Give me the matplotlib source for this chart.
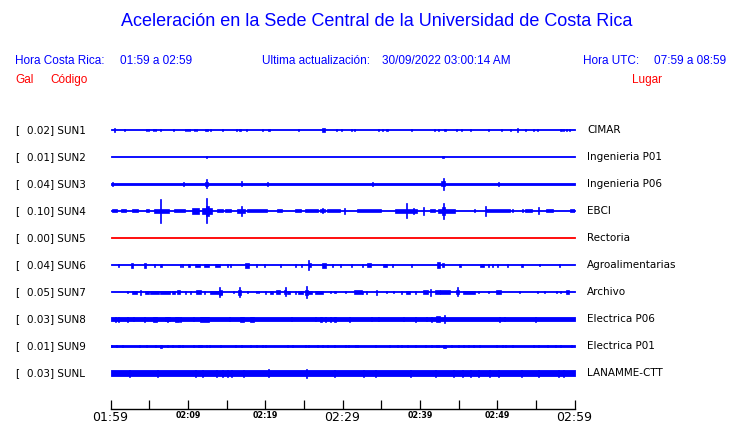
import matplotlib
matplotlib.use('Agg')
import matplotlib.pyplot as plt
import matplotlib.transforms as mtransforms

# station info, top to bottom
codes = ['SUN1', 'SUN2', 'SUN3', 'SUN4', 'SUN5', 'SUN6', 'SUN7', 'SUN8', 'SUN9', 'SUNL']
peaks = ['0.02', '0.01', '0.04', '0.10', '0.00', '0.04', '0.05', '0.03', '0.01', '0.03']
places = ['CIMAR', 'Ingenieria P01', 'Ingenieria P06', 'EBCI', 'Rectoria',
          'Agroalimentarias', 'Archivo', 'Electrica P06', 'Electrica P01', 'LANAMME-CTT']
# quiet level half width of each trace (px of the original)
base_amp = [0.5, 0.5, 1.1, 0.5, 0.5, 0.5, 0.5, 1.6, 0.5, 2.5]

# bursts per trace: (minute after 01:59, half amplitude in px, duration in minutes)
sun1 = [(0.56, 2.2, .13), (1.85, 1.3, .13), (4.69, 1.3, .13), (4.95, 1.3, .13), (5.50, 1.3, .13),
        (5.81, 1.3, .13), (6.49, 1.3, .13), (8.17, 1.3, .13), (9.72, 1.3, .13), (9.98, 1.3, .13),
        (10.23, 1.3, .13), (10.88, 1.3, .13), (11.14, 1.3, .13), (12.38, 1.2, .43), (12.95, 1.3, .13),
        (14.49, 1.3, .13), (16.34, 1.3, .13), (16.73, 1.3, .26), (17.63, 1.3, .13), (19.65, 1.3, .13),
        (20.51, 1.3, .17), (24.30, 1.0, .13), (27.57, 1.8, .34), (29.20, 1.3, .13), (29.85, 1.3, .13),
        (31.12, 1.3, .13), (31.53, 1.3, .13), (34.63, 1.3, .13), (35.14, 1.3, .13), (35.79, 1.3, .26),
        (38.88, 1.0, .13), (41.89, 1.3, .13), (42.41, 1.3, .13), (43.23, 1.3, .26), (44.69, 1.3, .13),
        (45.33, 1.3, .13), (46.49, 1.0, .13), (48.94, 1.3, .13), (50.54, 1.3, .13), (51.70, 1.3, .13),
        (52.62, 1.8, .22), (53.67, 1.0, .13), (54.75, 1.3, .13), (55.27, 1.3, .13), (58.24, 1.3, .26),
        (58.62, 1.3, .13), (59.01, 1.3, .13), (59.39, 1.3, .13)]
sun2 = [(12.38, 1.0, .13), (43.05, 1.2, .26)]
sun3 = [(12.38, 4.5, .13), (12.38, 2.2, .40), (16.94, 2.5, .13), (43.05, 6.0, .13), (43.05, 2.5, .50),
        (0.3, 1.8, .13), (9.5, 1.8, .13), (20.3, 1.8, .13), (33.9, 1.8, .13), (50.2, 1.8, .13)]
sun4 = [(0.54, 1.5, .65), (1.66, 1.5, .73), (3.18, 1.5, .77), (4.84, 1.5, .39), (6.56, 2.0, 1.94),
        (8.92, 1.5, 1.5), (11.01, 3.0, .95), (12.47, 3.0, 1.29), (14.13, 1.5, .73), (15.22, 1.5, .77),
        (16.88, 2.0, 1.08), (18.92, 1.5, 2.58), (21.83, 1.5, .65), (24.25, 1.5, .77), (26.02, 1.5, 1.72),
        (27.41, 1.5, .65), (28.81, 1.5, 1.72), (33.44, 1.5, 3.2), (38.17, 2.0, 2.8), (41.61, 1.5, .65),
        (43.44, 2.0, 2.15), (47.10, 1.5, .13), (50.15, 1.5, 3.1), (52.04, 1.5, .13), (53.24, 1.5, .13),
        (54.04, 1.5, 1.0), (56.77, 1.5, .86), (59.68, 1.5, .65),
        (6.49, 12.0, .13), (12.38, 12.5, .13), (12.50, 5.0, .40), (16.94, 5.3, .13), (27.41, 2.5, .13),
        (30.20, 3.3, .13), (38.28, 7.5, .13), (39.23, 3.0, .13), (40.43, 4.0, .13), (43.05, 8.0, .13),
        (43.10, 4.0, .40), (48.43, 5.0, .13), (55.31, 3.5, .13)]
sun5 = []
sun6 = [(1.08, 1.5, .13), (2.75, 2.5, .26), (4.43, 2.5, .26), (5.72, 1.5, .13), (6.49, 1.5, .30),
        (8.99, 1.5, .13), (9.33, 1.5, .13), (10.11, 1.5, .30), (11.29, 1.5, .65), (12.37, 1.5, .65),
        (13.87, 1.5, .65), (15.18, 1.5, .13), (15.48, 1.5, .13), (17.68, 2.5, .52), (18.84, 1.5, .13),
        (19.91, 1.5, .13), (22.02, 1.5, .13), (23.87, 1.5, .13), (24.73, 1.5, .13), (25.59, 5.3, .13),
        (25.81, 2.0, .20), (27.57, 2.5, .52), (28.73, 1.5, .13), (29.68, 1.5, .13), (31.10, 1.5, .13),
        (32.60, 1.5, .13), (33.42, 1.8, .43), (35.53, 1.5, .52), (36.43, 1.5, .13), (38.93, 1.5, .13),
        (42.41, 2.8, .30), (43.01, 1.8, .30), (45.20, 1.5, .30), (48.00, 1.5, .52), (48.90, 1.5, .13),
        (49.42, 1.5, .13), (49.98, 1.5, .13), (51.40, 1.5, .13), (53.20, 1.5, .30), (55.48, 1.0, .13),
        (58.06, 1.5, .13)]
sun7 = [(2.15, 1.0, .13), (3.12, 1.5, .65), (3.83, 2.5, .13), (4.69, 1.5, .52), (5.70, 1.5, 1.08),
        (7.10, 1.5, 1.29), (8.17, 1.5, .43), (8.82, 2.0, .43), (9.72, 1.5, .13), (10.32, 1.5, .13),
        (11.40, 2.0, .69), (12.17, 1.5, .13), (13.44, 1.5, 1.08), (14.10, 5.0, .13), (14.20, 2.5, .40),
        (14.36, 1.5, .13), (15.91, 1.0, .13), (16.69, 5.0, .13), (16.70, 2.5, .40), (17.76, 1.0, .13),
        (18.92, 1.0, .13), (19.14, 1.0, .13), (20.00, 1.5, .13), (20.86, 1.5, .43), (21.65, 2.0, .56),
        (22.58, 4.5, .13), (22.60, 2.0, .30), (23.01, 1.5, .43), (23.87, 1.5, .13), (24.62, 1.5, .65),
        (25.33, 6.0, .13), (25.40, 2.5, .40), (25.80, 1.5, .43), (26.99, 1.5, 1.08), (28.47, 1.0, .13),
        (29.03, 1.0, .13), (30.33, 1.0, .13), (31.98, 2.0, 1.0), (32.60, 1.5, .13), (33.12, 1.5, .13),
        (34.41, 2.5, .20), (35.70, 1.0, .13), (36.56, 1.0, .13), (37.64, 1.5, .13), (38.45, 1.5, .52),
        (39.48, 1.5, .13), (40.75, 2.0, .65), (41.42, 3.5, .13), (42.26, 2.0, .65), (43.23, 2.0, 1.29),
        (44.82, 4.5, .13), (44.90, 2.2, .40), (46.35, 1.5, 1.5), (47.53, 1.0, .13), (48.82, 1.0, .13),
        (50.21, 2.0, .65), (52.90, 1.0, .13), (55.27, 1.0, .13), (56.08, 1.0, .13), (57.63, 1.0, .13),
        (58.15, 1.0, .13), (59.09, 2.0, .34)]
sun8 = [(0.65, 2.5, .13), (1.08, 2.5, .13), (2.24, 2.5, .13), (3.01, 2.2, .13), (4.43, 2.5, .13),
        (5.76, 2.5, .52), (7.31, 2.5, .13), (7.42, 2.3, .65), (8.60, 2.5, .43), (9.03, 2.5, .13),
        (10.75, 2.2, .13), (12.15, 2.5, 1.08), (15.40, 2.2, .13), (16.99, 2.5, .43), (18.28, 2.5, .43),
        (23.44, 2.2, .13), (26.45, 2.2, .13), (27.22, 2.5, .13), (27.74, 2.5, .13), (28.51, 2.5, .13),
        (29.03, 2.5, .13), (30.88, 2.5, .13), (33.77, 2.2, .13), (34.63, 2.2, .13), (37.94, 2.2, .13),
        (39.48, 2.5, .13), (40.86, 2.2, .13), (41.51, 2.5, .13), (42.32, 3.0, .52), (43.14, 4.0, .13),
        (50.24, 2.5, .13), (50.97, 2.2, .13), (54.97, 2.5, .13)]
sun9 = [(0.09, 1.2, .13), (0.77, 1.2, .13), (1.51, 1.2, .13), (3.78, 1.2, .13), (4.69, 1.2, .13),
        (5.76, 1.2, .13), (6.54, 1.5, .30), (7.40, 1.2, .13), (7.96, 1.2, .13), (8.88, 1.2, .30),
        (9.37, 1.2, .13), (10.67, 1.2, .13), (11.55, 1.2, .56), (12.47, 1.2, .13), (12.82, 1.2, .13),
        (14.28, 1.2, .13), (16.13, 1.2, .13), (16.90, 1.2, .13), (18.15, 1.2, .13), (18.92, 1.2, .13),
        (19.70, 1.2, .13), (20.00, 1.2, .13), (22.92, 1.2, .13), (23.57, 1.2, .13), (25.20, 1.2, .13),
        (25.59, 1.2, .13), (26.79, 1.2, .13), (27.40, 1.2, .13), (28.08, 1.2, .13), (28.94, 1.2, .13),
        (30.33, 1.2, .13), (30.76, 1.2, .13), (31.62, 1.2, .13), (31.96, 1.2, .13), (34.32, 1.2, .13),
        (36.04, 1.2, .13), (37.08, 1.2, .13), (37.68, 1.2, .13), (38.37, 1.2, .13), (39.48, 1.2, .13),
        (40.77, 1.2, .13), (41.51, 1.2, .13), (42.15, 1.2, .13), (42.37, 1.2, .13), (43.18, 1.5, .34),
        (44.09, 1.2, .13), (44.95, 1.2, .13), (45.59, 1.2, .13), (46.24, 1.2, .13), (46.97, 1.2, .13),
        (47.74, 1.2, .13), (49.89, 1.2, .13), (50.75, 1.2, .13), (51.05, 1.2, .13), (52.04, 1.2, .13),
        (54.75, 1.2, .13), (55.39, 1.2, .13), (56.56, 1.2, .13), (57.55, 1.2, .13), (58.19, 1.2, .13),
        (59.57, 1.2, .13)]
sunl = [(2.49, 3.5, .13), (6.02, 3.5, .13), (10.97, 3.5, .13), (11.87, 3.5, .13), (13.68, 3.5, .13),
        (14.49, 3.5, .13), (15.14, 3.5, .13), (15.70, 3.5, .13), (17.20, 3.5, .13), (20.43, 3.8, .13),
        (25.33, 4.5, .13), (28.94, 3.5, .13), (32.69, 3.5, .13), (34.32, 3.5, .13), (38.80, 3.5, .13),
        (42.07, 3.5, .13), (44.30, 3.5, .13), (45.51, 3.5, .13), (46.54, 3.5, .13), (47.53, 3.5, .13),
        (48.95, 3.5, .13), (50.11, 3.5, .13), (53.12, 3.5, .13), (55.40, 3.5, .13), (57.94, 3.5, .13),
        (58.58, 3.5, .13)]
bursts = [sun1, sun2, sun3, sun4, sun5, sun6, sun7, sun8, sun9, sunl]

tick_minutes = list(range(0, 61, 5))
tick_labels = ['01:59', '', '02:09', '', '02:19', '', '02:29', '', '02:39', '', '02:49', '', '02:59']
big_labels = ['01:59', '02:29', '02:59']

W, H = 740, 423
ROW_PX = 27.0   # spacing between traces in the original
BLUE = '#0000ff'
RED = '#ff0000'

fig = plt.figure(figsize=(W / 100, H / 100), dpi=100)
fig.patch.set_facecolor('white')

# axes from y=103px (row -1) down to the time axis at 409px
top_px, bot_px = 103, 409
left_px, right_px = 110.5, 574.5
ax = fig.add_axes([left_px / W, (H - bot_px) / H, (right_px - left_px) / W, (bot_px - top_px) / H])
ax.set_xlim(0, 60)
ax.set_ylim((bot_px - 130) / ROW_PX, -1)

for i in range(len(codes)):
    col = RED if codes[i] == 'SUN5' else BLUE
    b = base_amp[i] / ROW_PX
    ax.fill_between([0, 60], i - b, i + b, color=col, linewidth=0.6, edgecolor=col)
    if bursts[i]:
        t = [p[0] for p in bursts[i]]
        a = [p[1] / ROW_PX for p in bursts[i]]
        d = [p[2] for p in bursts[i]]
        ax.bar(t, [2 * v for v in a], width=d, bottom=[i - v for v in a],
               color=col, edgecolor=col, linewidth=0.5, align='center')

for s in ['top', 'left', 'right']:
    ax.spines[s].set_visible(False)
ax.spines['bottom'].set_linewidth(1.0)
ax.set_yticks([])
ax.set_xticks(tick_minutes)
ax.set_xticklabels(tick_labels)
ax.tick_params(axis='x', direction='in', length=6.5, width=0.9, pad=1.5, colors='black')
for lab in ax.get_xticklabels():
    if lab.get_text() in big_labels:
        lab.set_fontsize(9)
    else:
        lab.set_fontsize(5.8)
        lab.set_fontweight('bold')

# station labels on both sides
trans = mtransforms.blended_transform_factory(fig.transFigure, ax.transData)
for i in range(len(codes)):
    ax.text(15 / W, i, '[', transform=trans, fontsize=7.5, va='center', ha='left', clip_on=False)
    ax.text(27 / W, i, peaks[i] + '] ' + codes[i], transform=trans, fontsize=7.5,
            va='center', ha='left', clip_on=False)
    ax.text(587 / W, i, places[i], transform=trans, fontsize=7.5, va='center', ha='left', clip_on=False)

# header
hf = 'Liberation Sans'
fig.text(377 / W, 1 - 22 / H, 'Aceleración en la Sede Central de la Universidad de Costa Rica',
         color=BLUE, fontsize=13, family=hf, ha='center', va='center')
hy = 1 - 61 / H
fig.text(15 / W, hy, 'Hora Costa Rica:', color=BLUE, fontsize=8.5, family=hf, va='center')
fig.text(120 / W, hy, '01:59 a 02:59', color=BLUE, fontsize=8.5, family=hf, va='center')
fig.text(262 / W, hy, 'Ultima actualización:', color=BLUE, fontsize=8.5, family=hf, va='center')
fig.text(382 / W, hy, '30/09/2022 03:00:14 AM', color=BLUE, fontsize=8.5, family=hf, va='center')
fig.text(583 / W, hy, 'Hora UTC:', color=BLUE, fontsize=8.5, family=hf, va='center')
fig.text(654 / W, hy, '07:59 a 08:59', color=BLUE, fontsize=8.5, family=hf, va='center')
ly = 1 - 80 / H
fig.text(15 / W, ly, 'Gal', color=RED, fontsize=8.5, family=hf, va='center')
fig.text(50 / W, ly, 'Código', color=RED, fontsize=8.5, family=hf, va='center')
fig.text(662 / W, ly, 'Lugar', color=RED, fontsize=8.5, family=hf, va='center', ha='right')

fig.savefig('out.png', dpi=100, facecolor='white')
